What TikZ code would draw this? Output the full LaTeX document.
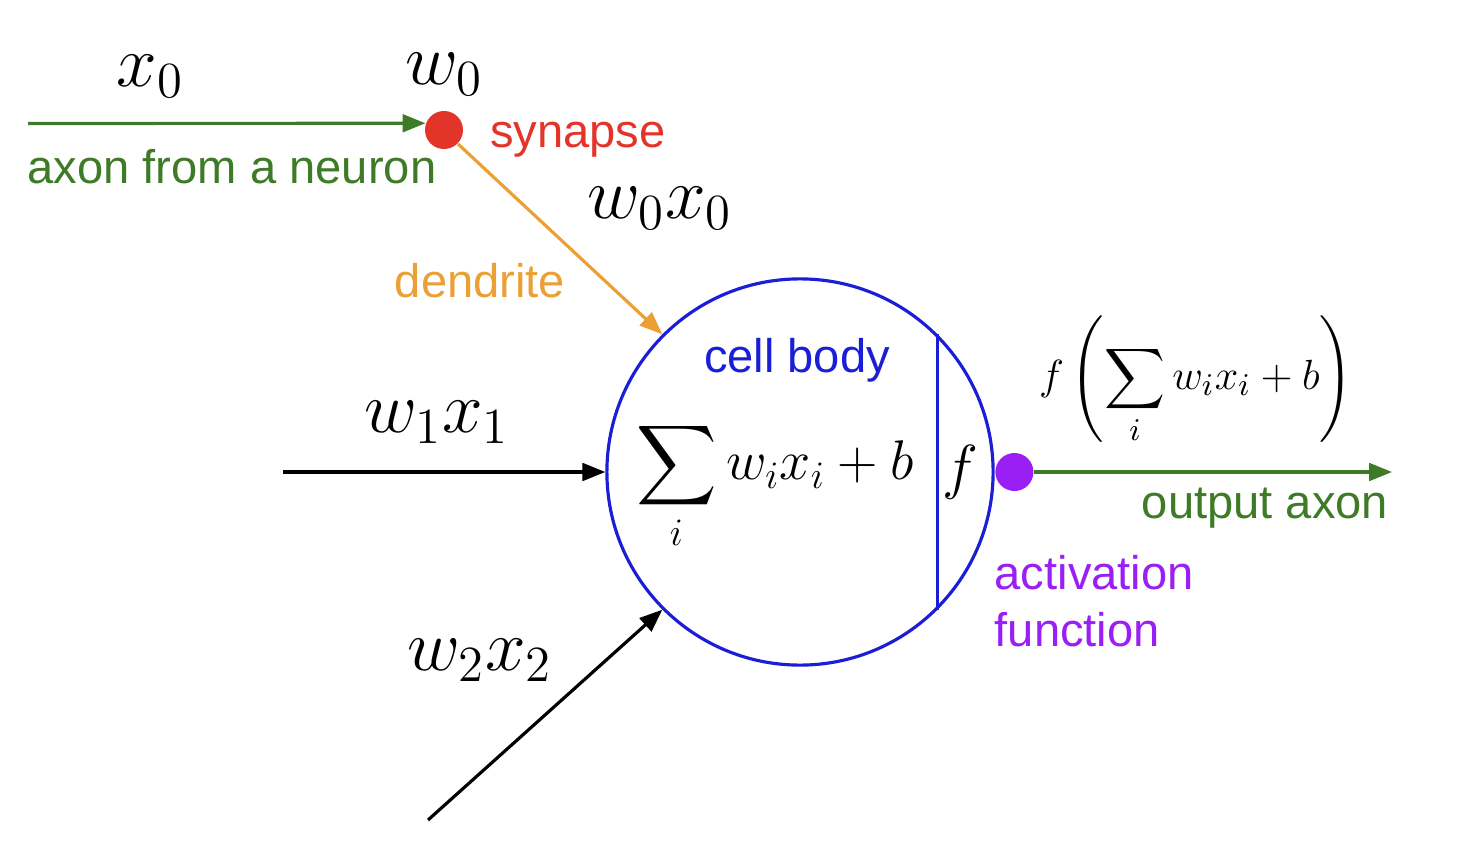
\documentclass[tikz,border=0pt]{standalone}
\usepackage{amsmath}
\usepackage{graphicx}
\usepackage{fontspec}
\setmainfont{Liberation Sans}
\usepackage{tikz}
\usetikzlibrary{arrows.meta, positioning}
\definecolor{axongreen}{HTML}{3E7B27}
\definecolor{synred}{HTML}{E3342A}
\definecolor{dendorange}{HTML}{EBA036}
\definecolor{bodyblue}{HTML}{1A1FD6}
\definecolor{actpurple}{HTML}{9A1FF5}
\tikzset{dot/.style={inner sep=0pt, circle, minimum size=0.38cm},
    tip/.style={line width=0.9pt, -{Triangle[length=6.5pt, width=5pt]}},
    txt/.style={font=\fontsize{13.4}{16}\selectfont},
    lbl/.style={font=\fontsize{20}{24}\selectfont}}

\begin{document}
\begin{tikzpicture}[x=0.01cm, y=-0.01cm]
    \useasboundingbox (0, 0) rectangle (1474, 846);
    \node[circle, draw=bodyblue, line width=0.9pt, minimum size=3.86cm, inner sep=0pt] (body) at (800, 472) {};
    \draw[bodyblue, line width=0.9pt] (body.45.6) -- (body.-45.6);
    \node[dot, fill=synred] (syn) at (444, 130) {};
    \node[dot, fill=actpurple, right=0pt of body] (act) {};
    \coordinate (in0) at (28, 123.5);
    \coordinate (in1) at (283, 472);
    \coordinate (in2) at (428, 820);
    \coordinate (out) at (1392, 472);
    \draw[tip, axongreen] (in0) -- (syn.160);
    \draw[tip, dendorange] (syn.-45) -- (body.135);
    \draw[tip] (in1) -- (body.west);
    \draw[tip] (in2) -- (body.225);
    \draw[tip, axongreen] (act.east) -- (out);
    \node[lbl] (lx0) at (150, 76) {$x_0$};
    \node[lbl] (lw0) at (444, 74) {$w_0$};
    \node[lbl] (lw0x0) at (660, 208) {$w_0x_0$};
    \node[lbl] (lw1x1) at (437, 422) {$w_1x_1$};
    \node[lbl] (lw2x2) at (480, 660) {$w_2x_2$};
    \node[txt, synred] (lsyn) at (578, 140) {synapse};
    \node[txt, axongreen] (laxon) at (232, 167) {axon from a neuron};
    \node[txt, dendorange] (ldend) at (480, 281) {dendrite};
    \node[txt, bodyblue] (lbody) at (797, 360) {cell body};
    \node[txt, axongreen] (lout) at (1265, 508) {output axon};
    \node[txt, actpurple, align=left, anchor=north west, inner sep=0pt] (lact) at (994, 555) {activation\\function};
    \node[font=\fontsize{17.28}{20}\selectfont] (lsum) at (775, 486) {\scalebox{0.92}{$\displaystyle\sum_i w_ix_i+b$}};
    \node[font=\fontsize{16}{19}\selectfont] (lf) at (960, 472) {$f$};
    \node[font=\fontsize{12.8}{15}\selectfont] (lfsum) at (1196, 380) {$\displaystyle f\left(\sum_i w_ix_i+b\right)$};
\end{tikzpicture}
\end{document}
